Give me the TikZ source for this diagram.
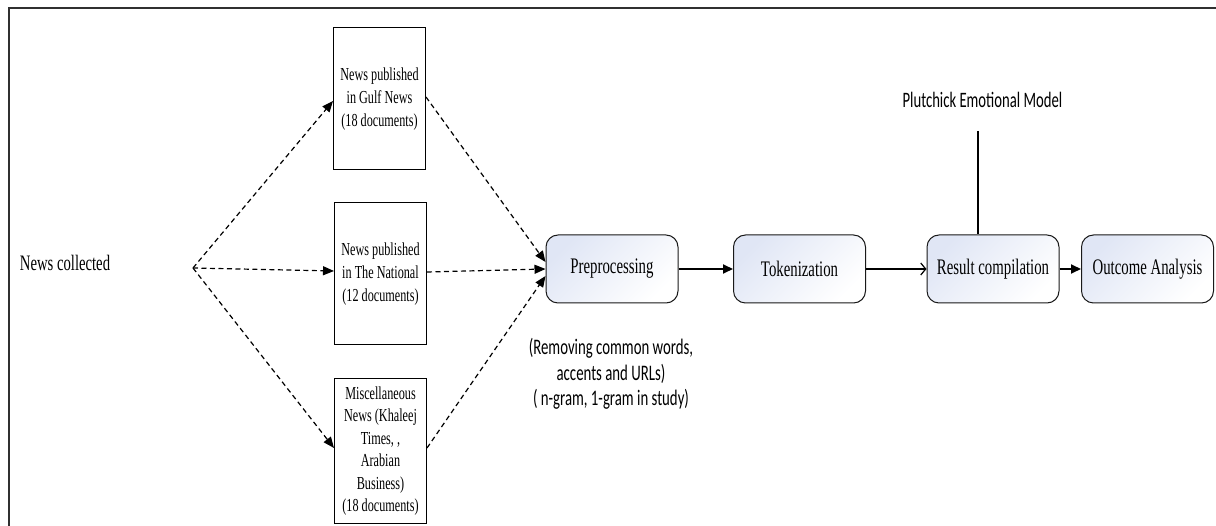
\documentclass[tikz,border=0pt]{standalone}
\usepackage{fontspec}
\usepackage{graphicx}
\setmainfont{Liberation Serif}
\newfontfamily\calib{Carlito}
\usetikzlibrary{arrows.meta}
\newcommand{\vstr}[1]{\scalebox{1}[1.5]{#1}}
\definecolor{frameclr}{HTML}{303030}
\definecolor{procblue}{HTML}{E0E6F5}
\tikzset{
  srcbox/.style={draw=black, line width=1pt, minimum width=92pt, inner sep=0pt},
  procbox/.style={draw=black!90, line width=1pt, rounded corners=12pt, minimum width=132pt, minimum height=68pt,
    inner sep=0pt, top color=procblue, bottom color=white, shading angle=45,
    font=\fontsize{14.8}{16}\selectfont},
  dashflow/.style={dash pattern=on 5pt off 3.5pt, line width=1.2pt, -{Triangle[length=11pt,width=9pt]}},
  solidflow/.style={line width=1.8pt, -{Triangle[length=10pt,width=9pt]}},
  openflow/.style={line width=1.6pt, -{Straight Barb[length=5pt,width=12pt,line width=1.2pt]}},
  plain/.style={inner sep=0pt}
}
\begin{document}
\begin{tikzpicture}[x=1pt,y=-1pt]
\useasboundingbox (0,0) rectangle (1216,526);
\fill[white] (0,0) rectangle (1216,526);
\clip (0,0) rectangle (1216,526);
\draw[frameclr, line width=2pt] (8.5,8.5) rectangle (1240,550);

\node[plain, font=\fontsize{14.7}{16}\selectfont] (coll) at (65,263) {\vstr{News collected}};
\coordinate (split) at (193,268);

\node[srcbox, minimum height=142pt] (b1) at (379.5,99)
  {\vstr{\fontsize{12.2}{15.5}\selectfont\begin{tabular}{@{}c@{}}News published\\in Gulf News\\(18 documents)\end{tabular}}};
\node[srcbox, minimum height=142pt] (b2) at (380.5,274)
  {\vstr{\fontsize{12.2}{15.5}\selectfont\begin{tabular}{@{}c@{}}News published\\in The National\\(12 documents)\end{tabular}}};
\node[srcbox, minimum height=144pt] (b3) at (380.5,451)
  {\vstr{\fontsize{12.2}{15}\selectfont\begin{tabular}{@{}c@{}}Miscellaneous\\News (Khaleej\\Times, ,\\Arabian\\Business)\\(18 documents)\end{tabular}}};

\node[procbox] (pre) at (612,269) {\vstr{Preprocessing}};
\node[procbox] (tok) at (799.5,269) {\vstr{Tokenization}};
\node[procbox] (res) at (993,269) {\vstr{Result compilation}};
\node[procbox] (out) at (1147.5,269) {\vstr{Outcome Analysis}};

\node[plain, font=\calib\fontsize{14.7}{16}\selectfont] (plut) at (982.5,100) {\vstr{Plutchick Emotional Model}};
\coordinate (pl) at (978,131);

\node[plain, font=\calib\fontsize{14.8}{16.7}\selectfont] (ann) at (611,375)
  {\vstr{\begin{tabular}{@{}c@{}}(Removing common words,\\accents and URLs)\\( n-gram, 1-gram in study)\end{tabular}}};

% dashed fan-out
\draw[dashflow] (split) -- (b1.west |- 0,101);
\draw[dashflow] (split) -- (b2.west |- 0,271);
\draw[dashflow] (split) -- (b3.west |- 0,448);
% dashed fan-in
\draw[dashflow] (b1.east |- 0,97) -- (pre.west |- 0,262);
\draw[dashflow] (b2.east |- 0,272) -- (pre.west |- 0,269);
\draw[dashflow] (b3.east |- 0,448) -- (pre.west |- 0,276);

% main flow
\draw[solidflow] (pre) -- (tok);
\draw[openflow] (tok) -- (res);
\draw[solidflow] (res) -- (out);
\draw[line width=1.1pt] (pl) -- (pl |- res.north);
\end{tikzpicture}
\end{document}
